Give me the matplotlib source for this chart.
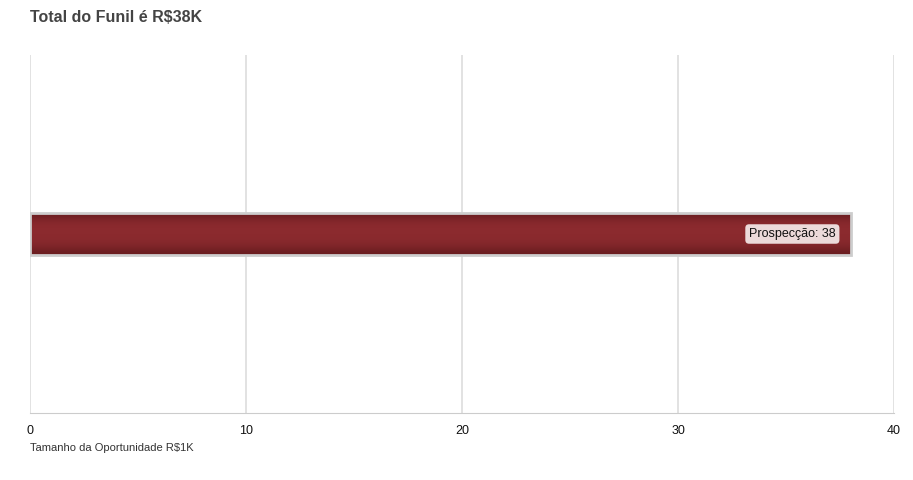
import matplotlib.pyplot as plt
import numpy as np

plt.rcParams['font.family'] = ['Liberation Sans', 'DejaVu Sans']

stages = ["Prospecção"]
values = [38]
title = "Total do Funil é R\\$38K"
xlabel = "Tamanho da Oportunidade R\\$1K"
xticks = [0, 10, 20, 30, 40]

fig = plt.figure(figsize=(9.13, 4.8), dpi=100)
ax = fig.add_axes([30 / 913, 67 / 480, 864 / 913, 358 / 480])

bars = ax.barh(range(len(stages)), values, height=0.12, color="#8b2a2e",
               linewidth=0, zorder=3)

# gradient shading on each bar
grad = np.array([0.0, 0.35, 0.5, 0.5, 0.5, 0.55, 0.7, 1.0])
grad = np.abs(grad - 0.5)[:, None] * 2
cmap = plt.matplotlib.colors.LinearSegmentedColormap.from_list("g", ["#8b2a2e", "#6a1d20"])
for b in bars:
    x0, y0, w, h = b.get_x(), b.get_y(), b.get_width(), b.get_height()
    im = ax.imshow(grad, cmap=cmap, extent=[x0, x0 + w, y0, y0 + h],
                   aspect="auto", interpolation="bicubic", zorder=3.5)
    im.set_clip_path(b)

# light gray outline on top
ax.barh(range(len(stages)), values, height=0.12, fill=False,
        edgecolor="#cdcdcd", linewidth=2, zorder=4)

for i, (s, v) in enumerate(zip(stages, values)):
    ax.text(v - 0.7, i, f"{s}: {v}", ha="right", va="center", fontsize=9,
            color="#111111", zorder=5,
            bbox=dict(boxstyle="round,pad=0.3,rounding_size=0.3",
                      facecolor="#ecdada", edgecolor="none"))

ax.set_xlim(0, 40)
ax.set_ylim(-0.5, 0.5)
ax.set_xticks(xticks)
ax.set_yticks([])
ax.grid(axis="x", color="#dddddd", linewidth=1.2, zorder=0)
for sp in ["top", "right", "left"]:
    ax.spines[sp].set_visible(False)
ax.spines["bottom"].set_color("#cccccc")
ax.tick_params(axis="x", length=0, pad=9, labelsize=9, labelcolor="#111111")

fig.text(30 / 913, 1 - 18 / 480, title, fontsize=11.5, fontweight="bold",
         color="#444444", ha="left", va="center")
fig.text(30 / 913, 1 - 448 / 480, xlabel, fontsize=8, color="#333333",
         ha="left", va="center")

fig.savefig("out.png", dpi=100)
